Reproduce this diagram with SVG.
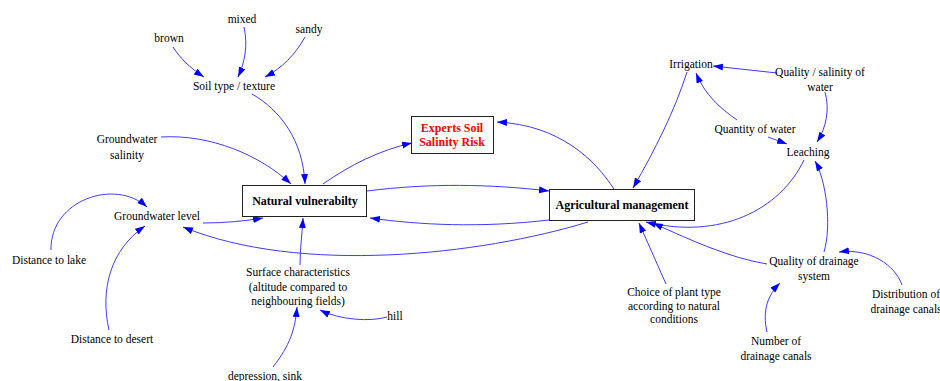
<svg xmlns="http://www.w3.org/2000/svg" width="940" height="381" viewBox="0 0 940 381">
<style>
text{font-family:"Liberation Serif","Times New Roman",serif;font-size:11.5px;fill:#000;text-anchor:middle}
.b{font-weight:bold;font-size:12px}
.r{fill:#ff0000}
.box{fill:#fff;stroke:#222;stroke-width:1}
.c path{fill:none;stroke:#3c3cff;stroke-width:1;marker-end:url(#ah)}
</style>
<defs>
<marker id="ah" markerUnits="userSpaceOnUse" markerWidth="11" markerHeight="8" refX="10" refY="3.5" orient="auto">
<path d="M0,0 L10,3.5 L0,7 z" fill="#0000ff"/>
</marker>
</defs>
<rect width="940" height="381" fill="#fff"/>
<g class="c" id="connectors">
<path d="M173,47 C180,58 190,68 204,77"/>
<path d="M244,27 C248,45 245,62 238,77"/>
<path d="M305,37 C295,55 282,68 265,77"/>
<path d="M252,94 C280,110 303,140 305,184"/>
<path d="M161,137 C210,134 260,155 291,184"/>
<path d="M323,184 C350,165 380,150 412,143"/>
<path d="M614,189 C595,160 560,125 497,122"/>
<path d="M367,191 C430,183 490,184 549,191"/>
<path d="M549,220 C480,228 420,225 370,218"/>
<path d="M203,223 C225,223 245,221 263,218"/>
<path d="M300,265 C300,250 302,235 303,218"/>
<path d="M387,317 C370,322 340,320 320,310"/>
<path d="M273,367 C290,345 295,330 297,307"/>
<path d="M51,250 C50,200 115,178 147,207"/>
<path d="M109,330 C100,290 110,250 145,226"/>
<path d="M588,222 C480,255 300,275 183,227"/>
<path d="M687,72 C675,110 655,150 633,188"/>
<path d="M777,73 L713,66"/>
<path d="M737,120 C720,108 705,95 696,73"/>
<path d="M768,137 L787,144"/>
<path d="M825,92 C830,110 826,128 817,142"/>
<path d="M804,160 C780,210 720,240 646,222"/>
<path d="M824,252 C832,225 826,180 815,161"/>
<path d="M767,264 C730,258 690,240 653,223"/>
<path d="M666,284 L639,223"/>
<path d="M767,332 C762,310 768,295 780,283"/>
<path d="M902,285 C895,265 870,248 839,252"/>
</g>
<g id="brown"><text x="169" y="42">brown</text></g>
<g id="mixed"><text x="242" y="23">mixed</text></g>
<g id="sandy"><text x="309" y="33">sandy</text></g>
<g id="soil"><text x="234" y="90">Soil type / texture</text></g>
<g id="gwsal"><text x="127" y="143">Groundwater</text><text x="127" y="159">salinity</text></g>
<g id="natural"><rect class="box" x="242.5" y="185.5" width="124" height="31"/><text class="b" x="305" y="205">Natural vulnerabilty</text></g>
<g id="experts"><rect class="box" x="411.5" y="116.5" width="82" height="37"/><text class="b r" x="452" y="132">Experts Soil</text><text class="b r" x="452" y="146">Salinity Risk</text></g>
<g id="agri"><rect class="box" x="549.5" y="189.5" width="145" height="31"/><text class="b" x="622" y="209">Agricultural management</text></g>
<g id="irrigation"><text x="691" y="68">Irrigation</text></g>
<g id="qualwater"><text x="820" y="76">Quality / salinity of</text><text x="820" y="91">water</text></g>
<g id="quantity"><text x="755" y="133">Quantity of water</text></g>
<g id="leaching"><text x="808" y="156">Leaching</text></g>
<g id="gwlevel"><text x="157" y="220">Groundwater level</text></g>
<g id="lake"><text x="49" y="264">Distance to lake</text></g>
<g id="desert"><text x="112" y="343">Distance to desert</text></g>
<g id="surface"><text x="298" y="276">Surface characteristics</text><text x="298" y="291">(altitude compared to</text><text x="298" y="305">neighbouring fields)</text></g>
<g id="hill"><text x="395" y="320">hill</text></g>
<g id="depression"><text x="265" y="380">depression, sink</text></g>
<g id="choice"><text x="674" y="296">Choice of plant type</text><text x="674" y="310">according to natural</text><text x="674" y="323">conditions</text></g>
<g id="qualdrain"><text x="814" y="265">Quality of drainage</text><text x="814" y="280">system</text></g>
<g id="number"><text x="776" y="345">Number of</text><text x="776" y="360">drainage canals</text></g>
<g id="distribution"><text x="906" y="298">Distribution of</text><text x="906" y="313">drainage canals</text></g>
</svg>
